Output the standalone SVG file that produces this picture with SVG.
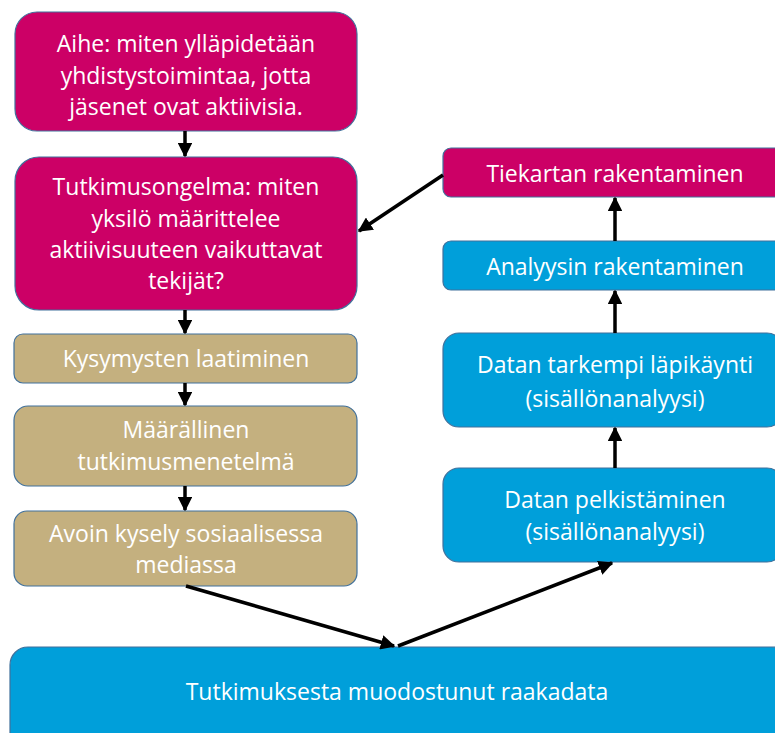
<svg xmlns="http://www.w3.org/2000/svg" width="775" height="733" viewBox="0 0 775 733">
  <style>
    .pink { fill: #CC0066; stroke: #41719C; stroke-width: 1.2; }
    .tan { fill: #C4B07F; stroke: #41719C; stroke-width: 1.2; }
    .blue { fill: #009FDA; stroke: #41719C; stroke-width: 1.2; }
    .lbl { font-family: "Open Sans", "Liberation Sans", sans-serif; font-size: 23px; fill: #FFFFFF; text-anchor: middle; }
    .conn { stroke: #000000; stroke-width: 3.5; fill: none; marker-end: url(#head); }
  </style>
  <defs>
    <marker id="head" viewBox="0 0 10 10" refX="9" refY="5" markerWidth="4.2" markerHeight="4.2" orient="auto" markerUnits="strokeWidth">
      <path d="M0,0 L10,5 L0,10 z" fill="#000000"/>
    </marker>
  </defs>
  <rect width="775" height="733" fill="#FFFFFF"/>

  <g id="aihe">
    <rect class="pink" x="15" y="12" width="342" height="119" rx="22"/>
    <text class="lbl" x="186" y="52">Aihe: miten ylläpidetään</text>
    <text class="lbl" x="186" y="84">yhdistystoimintaa, jotta</text>
    <text class="lbl" x="186" y="115">jäsenet ovat aktiivisia.</text>
  </g>

  <g id="tutkimusongelma">
    <rect class="pink" x="15" y="157" width="342" height="153" rx="24"/>
    <text class="lbl" x="186" y="195">Tutkimusongelma: miten</text>
    <text class="lbl" x="186" y="227">yksilö määrittelee</text>
    <text class="lbl" x="186" y="258">aktiivisuuteen vaikuttavat</text>
    <text class="lbl" x="186" y="289">tekijät?</text>
  </g>

  <g id="kysymysten">
    <rect class="tan" x="14" y="334" width="343" height="49" rx="9"/>
    <text class="lbl" x="186" y="367">Kysymysten laatiminen</text>
  </g>

  <g id="maarallinen">
    <rect class="tan" x="14" y="406" width="343" height="80" rx="14"/>
    <text class="lbl" x="186" y="438">Määrällinen</text>
    <text class="lbl" x="186" y="470">tutkimusmenetelmä</text>
  </g>

  <g id="avoin">
    <rect class="tan" x="14" y="511" width="343" height="75" rx="13"/>
    <text class="lbl" x="186" y="542">Avoin kysely sosiaalisessa</text>
    <text class="lbl" x="186" y="573">mediassa</text>
  </g>

  <g id="tiekartan">
    <rect class="pink" x="443" y="148" width="340" height="49" rx="8"/>
    <text class="lbl" x="615" y="182">Tiekartan rakentaminen</text>
  </g>

  <g id="analyysin">
    <rect class="blue" x="443" y="241" width="340" height="49" rx="8"/>
    <text class="lbl" x="615" y="275">Analyysin rakentaminen</text>
  </g>

  <g id="tarkempi">
    <rect class="blue" x="443" y="333" width="340" height="94" rx="16"/>
    <text class="lbl" x="615" y="373">Datan tarkempi läpikäynti</text>
    <text class="lbl" x="615" y="407">(sisällönanalyysi)</text>
  </g>

  <g id="pelkistaminen">
    <rect class="blue" x="443" y="468" width="340" height="94" rx="16"/>
    <text class="lbl" x="615" y="508">Datan pelkistäminen</text>
    <text class="lbl" x="615" y="540">(sisällönanalyysi)</text>
  </g>

  <g id="raakadata">
    <rect class="blue" x="10" y="647" width="780" height="110" rx="18"/>
    <text class="lbl" x="397" y="700">Tutkimuksesta muodostunut raakadata</text>
  </g>

  <g id="connectors">
    <line class="conn" x1="185" y1="131" x2="185" y2="156"/>
    <line class="conn" x1="185" y1="310" x2="185" y2="333"/>
    <line class="conn" x1="185" y1="383" x2="185" y2="405"/>
    <line class="conn" x1="185" y1="486" x2="185" y2="510"/>
    <line class="conn" x1="186" y1="586" x2="394" y2="646"/>
    <line class="conn" x1="398" y1="646" x2="612" y2="563"/>
    <line class="conn" x1="615" y1="468" x2="615" y2="428"/>
    <line class="conn" x1="615" y1="333" x2="615" y2="291"/>
    <line class="conn" x1="615" y1="241" x2="615" y2="198"/>
    <line class="conn" x1="443" y1="175" x2="359" y2="231"/>
  </g>
</svg>
